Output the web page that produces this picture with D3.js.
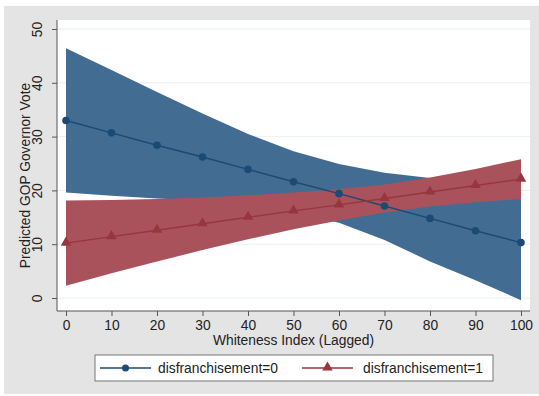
<!DOCTYPE html>
<html>
<head>
<meta charset="utf-8">
<script src="https://cdn.jsdelivr.net/npm/d3@7"></script>
<style>
  html, body { margin: 0; padding: 0; background: #ffffff; }
  svg { display: block; font-family: "Liberation Sans", Arial, sans-serif; }
</style>
</head>
<body>
<svg id="chart" width="539" height="396"></svg>
<script>
// Predicted GOP governor vote by whiteness index, with 95% confidence bands
const whiteness = [0, 10, 20, 30, 40, 50, 60, 70, 80, 90, 100];

const disf0 = [33.0, 30.7, 28.4, 26.2, 23.9, 21.6, 19.4, 17.1, 14.8, 12.5, 10.3];
const disf0Upper = [46.4, 42.4, 38.3, 34.3, 30.5, 27.3, 24.9, 23.3, 22.3, 21.5, 21.0];
const disf0Lower = [19.6, 19.0, 18.5, 18.1, 17.3, 15.9, 14.0, 10.8, 6.8, 3.3, -0.4];

const disf1 = [10.2, 11.4, 12.6, 13.8, 15.0, 16.2, 17.3, 18.5, 19.7, 20.9, 22.1];
const disf1Upper = [18.1, 18.2, 18.4, 18.7, 19.1, 19.6, 20.2, 21.1, 22.4, 24.0, 25.8];
const disf1Lower = [2.3, 4.6, 6.8, 8.9, 10.9, 12.8, 14.4, 15.9, 17.0, 17.8, 18.4];

const xTicks = [0, 10, 20, 30, 40, 50, 60, 70, 80, 90, 100];
const yTicks = [0, 10, 20, 30, 40, 50];

const seriesNames = ["disfranchisement=0", "disfranchisement=1"];
const xTitle = "Whiteness Index (Lagged)";
const yTitle = "Predicted GOP Governor Vote";

const svg = d3.select("#chart");
const fontSize = 13.8;

// outer gray panel
svg.append("rect").attr("x", 4).attr("y", 6).attr("width", 535).attr("height", 388)
  .attr("fill", "#e4e4e4");

// plot region
const plot = { left: 57, top: 20, right: 530, bottom: 311 };
svg.append("rect").attr("x", plot.left).attr("y", plot.top)
  .attr("width", plot.right - plot.left).attr("height", plot.bottom - plot.top)
  .attr("fill", "#ffffff");

const x = d3.scaleLinear().domain([0, 100]).range([66, 521]);
const y = d3.scaleLinear().domain([0, 50]).range([298, 29]);

// horizontal grid lines
svg.append("g").selectAll("line").data(yTicks).join("line")
  .attr("x1", plot.left).attr("x2", plot.right)
  .attr("y1", d => y(d)).attr("y2", d => y(d))
  .attr("stroke", "#eaf0f1").attr("stroke-width", 1);

const rows0 = whiteness.map((w, i) => ({ w, v: disf0[i], hi: disf0Upper[i], lo: disf0Lower[i] }));
const rows1 = whiteness.map((w, i) => ({ w, v: disf1[i], hi: disf1Upper[i], lo: disf1Lower[i] }));

const area = d3.area().x(d => x(d.w)).y0(d => y(d.lo)).y1(d => y(d.hi));
const line = d3.line().x(d => x(d.w)).y(d => y(d.v));

const blueFill = "#436c93", redFill = "#a9525b";
const blueLine = "#1b4a75", redLine = "#97363f";

svg.append("path").datum(rows0).attr("d", area).attr("fill", blueFill);
svg.append("path").datum(rows1).attr("d", area).attr("fill", redFill);

svg.append("path").datum(rows0).attr("d", line).attr("fill", "none")
  .attr("stroke", blueLine).attr("stroke-width", 1.4);
svg.append("path").datum(rows1).attr("d", line).attr("fill", "none")
  .attr("stroke", redLine).attr("stroke-width", 1.4);

const tri = d3.symbol().type(d3.symbolTriangle).size(48);

svg.append("g").selectAll("circle").data(rows0).join("circle")
  .attr("cx", d => x(d.w)).attr("cy", d => y(d.v)).attr("r", 3.8)
  .attr("fill", blueLine);
svg.append("g").selectAll("path").data(rows1).join("path")
  .attr("d", tri).attr("transform", d => `translate(${x(d.w)},${y(d.v) - 0.5})`)
  .attr("fill", redLine);

// axes
const axisColor = "#555555";
const xAxis = svg.append("g").attr("transform", `translate(0,${plot.bottom})`)
  .call(d3.axisBottom(x).tickValues(xTicks).tickSize(5).tickPadding(4).tickFormat(d3.format("d")));
xAxis.select(".domain").attr("d", `M${plot.left},0H${plot.right}`).attr("stroke", axisColor);
xAxis.selectAll(".tick line").attr("stroke", axisColor);
xAxis.selectAll(".tick text").attr("font-size", fontSize).attr("fill", "#222")
  .attr("font-family", "Liberation Sans, Arial, sans-serif");

const yAxis = svg.append("g").attr("transform", `translate(${plot.left},0)`)
  .call(d3.axisLeft(y).tickValues(yTicks).tickSize(5).tickFormat(d3.format("d")));
yAxis.select(".domain").attr("d", `M0,${plot.top}V${plot.bottom}`).attr("stroke", axisColor);
yAxis.selectAll(".tick line").attr("stroke", axisColor);
yAxis.selectAll(".tick text")
  .attr("x", null).attr("dy", null)
  .attr("transform", "translate(-15,0) rotate(-90)")
  .attr("text-anchor", "middle")
  .attr("font-size", fontSize).attr("fill", "#222")
  .attr("font-family", "Liberation Sans, Arial, sans-serif");

// axis titles
svg.append("text").attr("x", (x(0) + x(100)) / 2).attr("y", 345)
  .attr("text-anchor", "middle").attr("font-size", fontSize).attr("fill", "#222")
  .text(xTitle);
svg.append("text").attr("transform", `translate(30,${(plot.top + plot.bottom) / 2 + 10}) rotate(-90)`)
  .attr("text-anchor", "middle").attr("font-size", fontSize).attr("fill", "#222")
  .text(yTitle);

// legend
const legend = svg.append("g");
legend.append("rect").attr("x", 95).attr("y", 355).attr("width", 398).attr("height", 26)
  .attr("fill", "#ffffff").attr("stroke", "#8a8a8a").attr("stroke-width", 1.2);

const legendItems = [
  { name: seriesNames[0], color: blueLine, x0: 100, tx: 158, shape: "circle" },
  { name: seriesNames[1], color: redLine, x0: 302, tx: 363, shape: "triangle" }
];
legendItems.forEach(it => {
  const g = legend.append("g");
  g.append("line").attr("x1", it.x0).attr("x2", it.x0 + 51).attr("y1", 368).attr("y2", 368)
    .attr("stroke", it.color).attr("stroke-width", 1.4);
  if (it.shape === "circle") {
    g.append("circle").attr("cx", it.x0 + 25.5).attr("cy", 368).attr("r", 3.5).attr("fill", it.color);
  } else {
    g.append("path").attr("d", tri).attr("transform", `translate(${it.x0 + 25.5},367.5)`).attr("fill", it.color);
  }
  g.append("text").attr("x", it.tx).attr("y", 373).attr("font-size", fontSize).attr("fill", "#222")
    .text(it.name);
});
</script>
</body>
</html>
